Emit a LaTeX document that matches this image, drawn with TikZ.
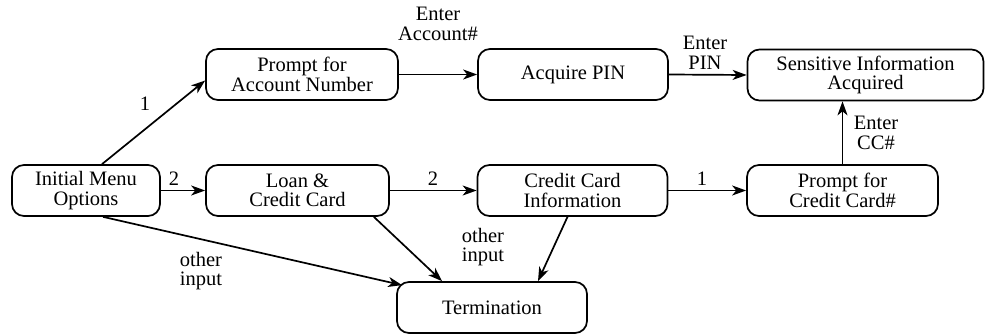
\documentclass[tikz,border=0pt]{standalone}
\usepackage{fontspec}
\setmainfont{Liberation Serif}
\usetikzlibrary{arrows.meta}
\begin{document}
\begin{tikzpicture}[x=1pt,y=-1pt,
 box/.style={draw, line width=1.7pt, rounded corners=12pt, align=center, minimum height=51pt, inner sep=0pt, font=\fontsize{20.5}{19.5}\selectfont},
 lbl/.style={align=center, inner sep=0pt, font=\fontsize{20.5}{19.5}\selectfont},
 arr/.style={line width=1.7pt, -{Stealth[length=14pt,width=10pt,inset=4pt]}}]
\useasboundingbox (0,0) rectangle (986,334);
\node[box, minimum width=148pt] (init) at (86,190.5) {Initial Menu\\Options};
\node[box, minimum width=192pt] (pacc) at (302,74.5) {Prompt for\\Account Number};
\node[box, minimum width=190pt] (pin) at (573,74.5) {Acquire PIN};
\node[box, minimum width=236pt] (sens) at (865.5,75) {Sensitive Information\\Acquired};
\node[box, minimum width=183pt] (loan) at (297.5,190.5) {Loan \&\\Credit Card};
\node[box, minimum width=190pt] (cci) at (572.5,190.5) {Credit Card\\Information};
\node[box, minimum width=191pt] (pcc) at (842.5,190.5) {Prompt for\\Credit Card\#};
\node[box, minimum width=190pt] (term) at (492,307.5) {Termination};

\draw[arr] ([xshift=16pt]init.north) -- ([yshift=-6pt]pacc.west);
\draw[arr] (init.east) -- (loan.west);
\draw[arr] ([xshift=17pt]init.south) -- ([xshift=6pt,yshift=-4pt]term.north west);
\draw[arr] (pacc.east) -- (pin.west);
\draw[arr] (pin.east) -- (sens.west);
\draw[arr] (loan.east) -- (cci.west);
\draw[arr] ([xshift=-16pt]loan.south east) -- ([xshift=-50pt]term.north);
\draw[arr] ([xshift=-5pt]cci.south) -- ([xshift=46pt]term.north);
\draw[arr] (cci.east) -- (pcc.west);
\draw[arr] (pcc.north) -- (pcc.north |- sens.south);

\node[lbl] (l1) at (145,104) {1};
\node[lbl] (l2) at (174,179) {2};
\node[lbl] (l3) at (433,179) {2};
\node[lbl] (l4) at (702,179) {1};
\node[lbl] (l5) at (438,24) {Enter\\Account\#};
\node[lbl] (l6) at (705,53) {Enter\\PIN};
\node[lbl] (l7) at (876,133) {Enter\\CC\#};
\node[lbl] (l8) at (201,271) {other\\input};
\node[lbl] (l9) at (483,247) {other\\input};
\end{tikzpicture}
\end{document}
